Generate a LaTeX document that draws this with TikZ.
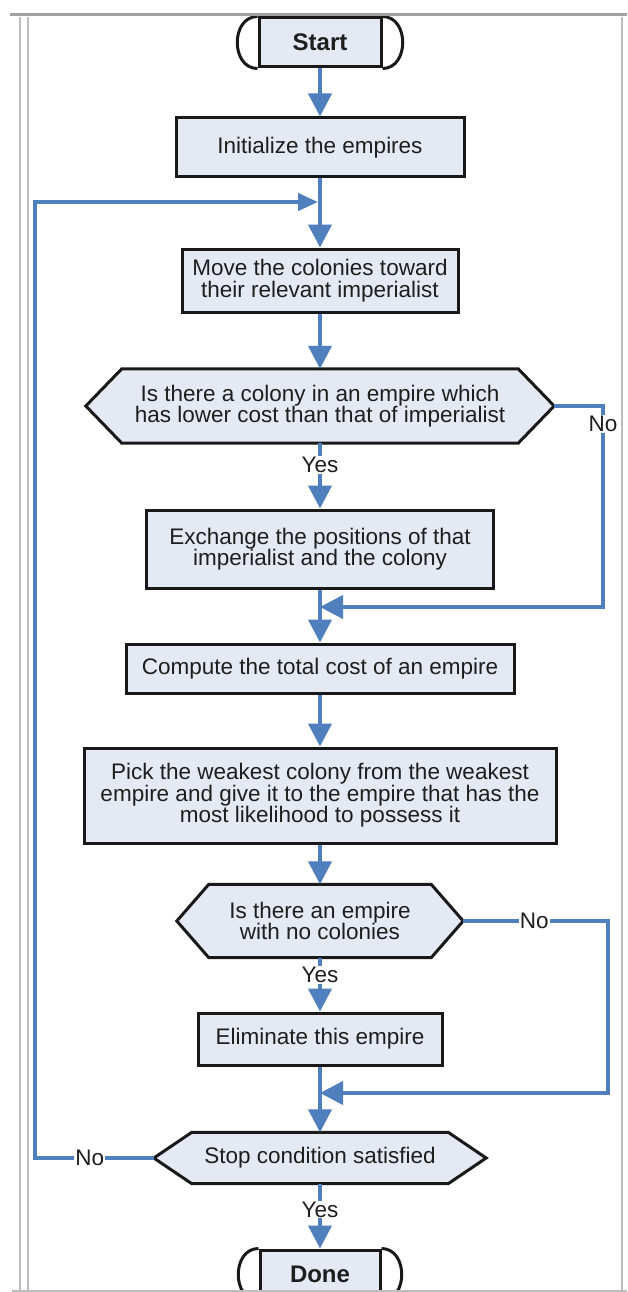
\documentclass[tikz,border=0pt]{standalone}
\usepackage{fontspec}
\setmainfont{Liberation Sans}
\usetikzlibrary{arrows.meta,backgrounds}
\definecolor{flowblue}{HTML}{4F7FBD}
\definecolor{boxfill}{HTML}{E4E9F4}
\definecolor{framegray}{HTML}{BDBDBD}
\definecolor{framedark}{HTML}{A2A2A2}
\definecolor{inkgray}{HTML}{1E1E1E}

\begin{document}
\begin{tikzpicture}[x=1pt,y=-1pt,
  txt/.style={font=\fontsize{22.5}{21.5}\selectfont, text=inkgray},
  procbox/.style={txt, draw=black!90, line width=3pt, fill=boxfill, align=center, inner sep=0pt},
  termbox/.style={procbox, font=\fontsize{24}{26}\selectfont\bfseries},
  decbox/.style={txt, align=center, inner sep=0pt},
  hexline/.style={draw=black!90, line width=3pt, fill=boxfill, line join=miter},
  termcap/.style={draw=black!90, line width=3pt},
  flow/.style={draw=flowblue, line width=4.2pt, -{Triangle[length=23pt,width=23pt]}},
  loopflow/.style={draw=flowblue, line width=4.2pt, -{Triangle[length=20pt,width=17pt]}},
  answer/.style={txt, fill=white, inner sep=1pt},
  frameline/.style={draw=framegray, line width=1.5pt},
]
\clip (0,0) rectangle (627,1292);
\begin{scope}[on background layer]
  \fill[white] (0,0) rectangle (627,1292);
\end{scope}

% process boxes and terminators
\node[termbox, minimum width=122, minimum height=49] (start) at (320,42.5) {Start};
\node[procbox, minimum width=288, minimum height=59] (init) at (320,147.5) {Initialize the empires};
\node[procbox, minimum width=276, minimum height=63] (move) at (320,280.5) {Move the colonies toward\\their relevant imperialist};
\node[decbox, minimum width=396, minimum height=74] (d1) at (320,406) {Is there a colony in an empire which\\has lower cost than that of imperialist};
\node[procbox, minimum width=347, minimum height=78] (exch) at (320,549) {Exchange the positions of that\\imperialist and the colony};
\node[procbox, minimum width=388, minimum height=49] (comp) at (320,668.5) {Compute the total cost of an empire};
\node[procbox, minimum width=472, minimum height=95] (pick) at (320,795.5) {Pick the weakest colony from the weakest\\empire and give it to the empire that has the\\most likelihood to possess it};
\node[decbox, minimum width=222, minimum height=73] (d2) at (320,921) {Is there an empire\\with no colonies};
\node[procbox, minimum width=244, minimum height=52] (elim) at (320,1039) {Eliminate this empire};
\node[decbox, minimum width=256, minimum height=51] (stop) at (320,1158) {Stop condition satisfied};
\node[termbox, minimum width=120, minimum height=49] (done) at (320,1274.5) {Done};

% hexagon tips
\coordinate (d1w) at ([xshift=-36pt]d1.west);
\coordinate (d1e) at ([xshift=36pt]d1.east);
\coordinate (d2w) at ([xshift=-32pt]d2.west);
\coordinate (d2e) at ([xshift=32pt]d2.east);
\coordinate (stopw) at ([xshift=-38pt]stop.west);
\coordinate (stope) at ([xshift=38pt]stop.east);

% decision outlines behind their text
\begin{scope}[on background layer]
  \path[hexline] (d1.north west) -- (d1.north east) -- (d1e) -- (d1.south east) -- (d1.south west) -- (d1w) -- cycle;
  \path[hexline] (d2.north west) -- (d2.north east) -- (d2e) -- (d2.south east) -- (d2.south west) -- (d2w) -- cycle;
  \path[hexline] (stop.north west) -- (stop.north east) -- (stope) -- (stop.south east) -- (stop.south west) -- (stopw) -- cycle;
\end{scope}

% rounded caps of the terminators
\foreach \t in {start,done}{
  \draw[termcap] (\t.north west) .. controls ([xshift=-27pt]\t.north west) and ([xshift=-27pt]\t.south west) .. (\t.south west);
  \draw[termcap] (\t.north east) .. controls ([xshift=27pt]\t.north east) and ([xshift=27pt]\t.south east) .. (\t.south east);
}

% junctions on the main line
\coordinate (j1) at (320,202);
\coordinate (j2) at (320,607);
\coordinate (j3) at (320,1093);

% main flow
\draw[flow] (start.south) -- (init.north);
\draw[flow] (init.south) -- (move.north);
\draw[flow] (move.south) -- (d1.north);
\draw[flow] (d1.south) -- node[answer, pos=0.33] {Yes} (exch.north);
\draw[flow] (exch.south) -- (comp.north);
\draw[flow] (comp.south) -- (pick.north);
\draw[flow] (pick.south) -- (d2.north);
\draw[flow] (d2.south) -- node[answer, pos=0.32] {Yes} (elim.north);
\draw[flow] (elim.south) -- (stop.north);
\draw[flow] (stop.south) -- node[answer, pos=0.4] {Yes} (done.north);

% "No" branches
\draw[flow, shorten >=-2pt] (d1e) -- (603,406) -- node[answer, pos=0.09] {No} (603,607) -- ([xshift=2pt]j2);
\draw[flow, shorten >=-2pt] (d2e) -- node[answer, pos=0.49] {No} (608,921) -- (608,1093) -- ([xshift=2pt]j3);
\draw[loopflow] (stopw) -- node[answer, pos=0.54] {No} (35,1158) -- (35,202) -- ([xshift=-2pt]j1);

% window frame
\draw[draw=framedark, line width=3pt] (10,15) -- (627,15);
\draw[frameline] (20,17) -- (20,1290);
\draw[frameline] (28,17) -- (28,1290);
\draw[frameline] (622,17) -- (622,1290);
\draw[draw=framegray, line width=3pt] (12,1291) -- (627,1291);
\end{tikzpicture}
\end{document}
